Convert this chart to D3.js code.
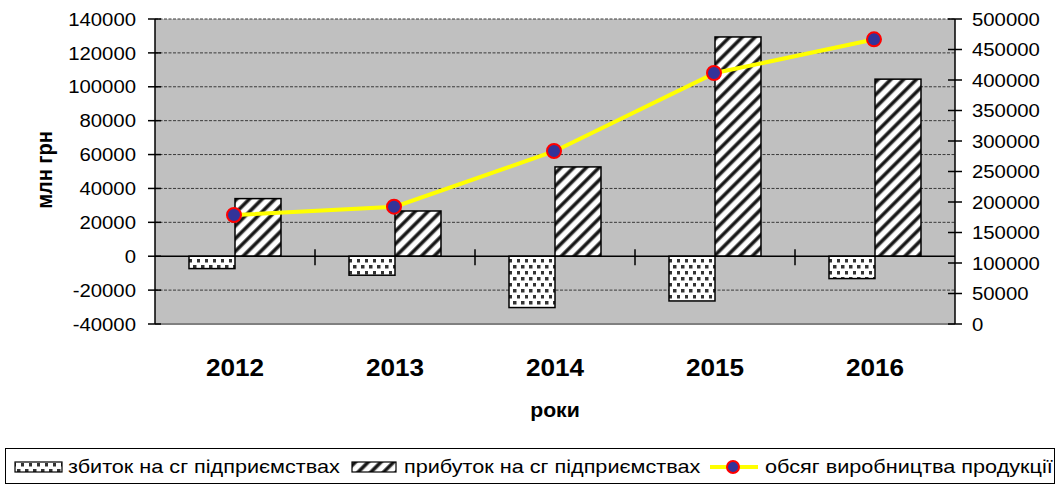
<!DOCTYPE html>
<html><head><meta charset="utf-8">
<script src="https://cdn.jsdelivr.net/npm/d3@7"></script>
<style>body{margin:0;background:#fff}svg{display:block}text{font-family:"Liberation Sans",Arial,sans-serif;fill:#000}</style>
</head><body><svg id="c" width="1061" height="485"></svg>
<script>
const years = ["2012","2013","2014","2015","2016"];
const loss = [-7300, -11200, -30300, -26400, -13200];
const profit = [34000, 26700, 52700, 129400, 104500];
const output = [178700, 192300, 283600, 411500, 466700];
const leftTicks = [-40000,-20000,0,20000,40000,60000,80000,100000,120000,140000];
const rightTicks = [0,50000,100000,150000,200000,250000,300000,350000,400000,450000,500000];
const seriesNames = ["збиток на сг підприємствах","прибуток на сг підприємствах","обсяг виробництва продукції"];
const yTitle = "млн грн";
const xTitle = "роки";

const SX = 1.09;
const svg = d3.select("#c");
const L = 155, R = 955, T = 19, B = 324;

const defs = svg.append("defs");
const hp = defs.append("pattern").attr("id","hatch").attr("patternUnits","userSpaceOnUse")
  .attr("width",9).attr("height",9).attr("patternTransform","rotate(45)");
hp.append("rect").attr("width",9).attr("height",9).attr("fill","#fff");
hp.append("rect").attr("x",0).attr("width",4.2).attr("height",9).attr("fill","#7a7a7a");
hp.append("rect").attr("x",0.8).attr("width",2.6).attr("height",9).attr("fill","#141414");
const dp = defs.append("pattern").attr("id","dots").attr("patternUnits","userSpaceOnUse")
  .attr("width",8).attr("height",12);
dp.append("rect").attr("width",8).attr("height",12).attr("fill","#fff");
dp.append("rect").attr("x",1).attr("y",1).attr("width",3.5).attr("height",3.5).attr("fill","#333");
dp.append("rect").attr("x",5).attr("y",7).attr("width",3.5).attr("height",3.5).attr("fill","#333");

const x0 = d3.scaleBand().domain(years).range([L,R]).padding(0);
const x1 = d3.scaleBand().domain(["loss","profit"]).range([34,126]).padding(0);
const yL = d3.scaleLinear().domain([-40000,140000]).range([B,T]);
const yR = d3.scaleLinear().domain([0,500000]).range([B,T]);

function txt(g,x,y,s,o={}){
  return g.append("text").attr("transform",`translate(${x},${y}) scale(${o.sx||SX},1)`)
    .attr("text-anchor",o.anchor||"start").attr("font-size",o.size||18.67)
    .attr("font-weight",o.bold?"bold":"normal").text(s);
}

// plot background
svg.append("rect").attr("x",L).attr("y",T).attr("width",R-L).attr("height",B-T).attr("fill","#c0c0c0");
// gridlines
leftTicks.forEach(v=>{
  if(v===0) return;
  const y = yL(v);
  svg.append("line").attr("x1",L).attr("x2",R).attr("y1",y).attr("y2",y)
    .attr("stroke", v===-40000?"#808080":"#3a3a3a").attr("stroke-width", v===-40000?2:1)
    .attr("stroke-dasharray", v===-40000?null:"3,1.5");
});

// bars
years.forEach((yr,i)=>{
  const cx = x0(yr);
  svg.append("rect").attr("x",cx+x1("loss")).attr("width",x1.bandwidth())
    .attr("y",yL(0)).attr("height",yL(loss[i])-yL(0))
    .attr("fill","url(#dots)").attr("stroke","#000").attr("stroke-width",1.5);
  svg.append("rect").attr("x",cx+x1("profit")).attr("width",x1.bandwidth())
    .attr("y",yL(profit[i])).attr("height",yL(0)-yL(profit[i]))
    .attr("fill","url(#hatch)").attr("stroke","#000").attr("stroke-width",1.5);
});

// zero line and category ticks
svg.append("line").attr("x1",L).attr("x2",R).attr("y1",yL(0)).attr("y2",yL(0)).attr("stroke","#000").attr("stroke-width",1.5);
years.forEach((yr,i)=>{
  if(i===0) return;
  const x = x0(yr);
  svg.append("line").attr("x1",x).attr("x2",x).attr("y1",yL(0)-7).attr("y2",yL(0)+9).attr("stroke","#000").attr("stroke-width",1.5);
});

// left axis
svg.append("line").attr("x1",L).attr("x2",L).attr("y1",T).attr("y2",B).attr("stroke","#000").attr("stroke-width",1.5);
leftTicks.forEach(v=>{
  const y=yL(v);
  svg.append("line").attr("x1",L-7).attr("x2",L+6).attr("y1",y).attr("y2",y).attr("stroke","#000").attr("stroke-width",1.5);
  txt(svg,136,y+6.7,String(v),{anchor:"end"});
});
// right axis
svg.append("line").attr("x1",R).attr("x2",R).attr("y1",T).attr("y2",B).attr("stroke","#000").attr("stroke-width",1.5);
rightTicks.forEach(v=>{
  const y=yR(v);
  svg.append("line").attr("x1",R-7).attr("x2",R+7).attr("y1",y).attr("y2",y).attr("stroke","#000").attr("stroke-width",1.5);
  txt(svg,972,y+6.7,String(v));
});

// line
const cxOf = yr => x0(yr)+x0.bandwidth()/2;
const line = d3.line().x((d,i)=>cxOf(years[i])).y(d=>yR(d));
svg.append("path").datum(output).attr("d",line).attr("fill","none").attr("stroke","#ffff00").attr("stroke-width",4);
output.forEach((v,i)=>{
  svg.append("circle").attr("cx",cxOf(years[i])-1).attr("cy",yR(v)).attr("r",7)
    .attr("fill","#333399").attr("stroke","#ff0000").attr("stroke-width",2);
});

// category labels
years.forEach(yr=>txt(svg,cxOf(yr),376,yr,{anchor:"middle",size:24,bold:true}));
txt(svg,cxOf("2014"),417,xTitle,{anchor:"middle",size:19.5,bold:true});
svg.append("text").attr("transform",`translate(52,170) rotate(-90) scale(1,${SX})`)
  .attr("text-anchor","middle").attr("font-size",20).attr("font-weight","bold").text(yTitle);

// legend
const LSX = 1.16;
svg.append("rect").attr("x",5.5).attr("y",448.5).attr("width",1049).attr("height",35).attr("fill","#fff").attr("stroke","#000").attr("stroke-width",1);
svg.append("rect").attr("x",15).attr("y",462).attr("width",47).attr("height",10).attr("fill","url(#dots)").attr("stroke","#000").attr("stroke-width",1.2);
txt(svg,68,473,seriesNames[0],{sx:LSX});
svg.append("rect").attr("x",352).attr("y",462).attr("width",44).attr("height",10).attr("fill","url(#hatch)").attr("stroke","#000").attr("stroke-width",1.2);
txt(svg,404,473,seriesNames[1],{sx:LSX});
svg.append("line").attr("x1",710).attr("x2",758).attr("y1",467).attr("y2",467).attr("stroke","#ffff00").attr("stroke-width",4);
svg.append("circle").attr("cx",733).attr("cy",467).attr("r",6).attr("fill","#333399").attr("stroke","#ff0000").attr("stroke-width",2);
txt(svg,765,473,seriesNames[2],{sx:LSX});
</script></body></html>
